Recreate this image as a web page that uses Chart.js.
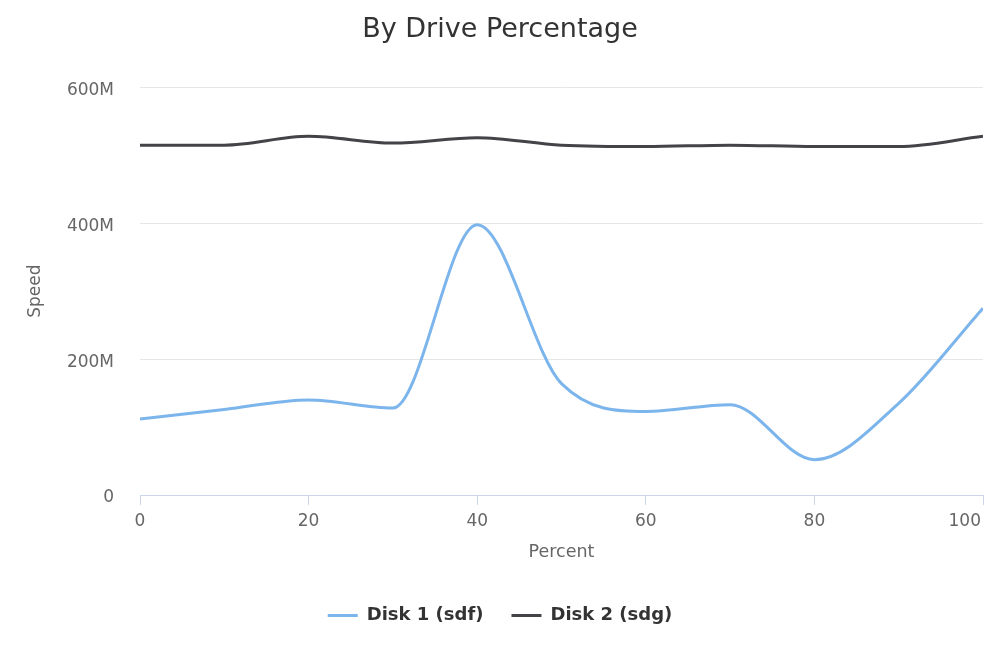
<!DOCTYPE html>
<html>
<head>
<meta charset="utf-8">
<script src="https://cdn.jsdelivr.net/npm/chart.js@4"></script>
<style>
  html, body { margin: 0; padding: 0; background: #ffffff; }
  #wrap { width: 1000px; height: 667px; position: relative; }
</style>
</head>
<body>
<div id="wrap"><canvas id="c"></canvas></div>
<script>
const percent = [0, 10, 20, 30, 40, 50, 60, 70, 80, 90, 100];
const disk1 = [112, 126, 140, 128, 398, 164, 123, 133, 52, 135, 275];
const disk2 = [515, 515, 528, 518, 526, 515, 513, 515, 513, 513, 528];
const yTickValues = [0, 200, 400, 600];
const xTickValues = [0, 20, 40, 60, 80, 100];
const seriesNames = ['Disk 1 (sdf)', 'Disk 2 (sdg)'];

const FONT = "'DejaVu Sans', 'Open Sans', sans-serif";

function toPoints(xs, ys) { return xs.map((x, i) => ({ x: x, y: ys[i] })); }

// Highcharts-like label placement: keep the last x label inside the canvas,
// and sit y labels slightly below their grid lines.
const labelTweaks = {
  id: 'labelTweaks',
  beforeDraw(chart) {
    const xs = chart.scales.x;
    const xi = xs.getLabelItems();
    if (xi.length) {
      const last = xi[xi.length - 1];
      last.options.textAlign = 'right';
      last.options.translation[0] = xs.right - 2;
    }
    const ys = chart.scales.y;
    ys.getLabelItems().forEach(it => { it.options.translation[1] += 3; });
  }
};

new Chart(document.getElementById('c'), {
  type: 'line',
  data: {
    datasets: [
      {
        label: seriesNames[0],
        data: toPoints(percent, disk1),
        borderColor: '#7cb5ec',
        backgroundColor: '#7cb5ec',
        borderWidth: 3,
        pointRadius: 0,
        cubicInterpolationMode: 'monotone',
        fill: false
      },
      {
        label: seriesNames[1],
        data: toPoints(percent, disk2),
        borderColor: '#434348',
        backgroundColor: '#434348',
        borderWidth: 3,
        pointRadius: 0,
        cubicInterpolationMode: 'monotone',
        fill: false
      }
    ]
  },
  plugins: [labelTweaks],
  options: {
    responsive: true,
    maintainAspectRatio: false,
    animation: false,
    layout: { padding: { left: 0, right: 0, top: 0, bottom: 32.5 } },
    plugins: {
      title: {
        display: true,
        text: 'By Drive Percentage',
        color: '#333333',
        font: { family: FONT, size: 27, weight: 'normal' },
        padding: { top: 14, bottom: 41 }
      },
      legend: {
        position: 'bottom',
        labels: {
          usePointStyle: true,
          pointStyle: 'line',
          pointStyleWidth: 30,
          color: '#333333',
          font: { family: FONT, size: 18, weight: 'bold' },
          padding: 28
        }
      },
      tooltip: { enabled: false }
    },
    scales: {
      x: {
        type: 'linear',
        min: 0,
        max: 100,
        afterBuildTicks: (s) => { s.ticks = xTickValues.map(v => ({ value: v })); },
        afterFit: (s) => { s.height = 83.5; s.paddingRight = 17; s.paddingLeft = 0; },
        ticks: { color: '#666666', font: { family: FONT, size: 17 }, padding: 6, maxRotation: 0 },
        grid: { drawOnChartArea: false, drawTicks: true, tickLength: 10, color: '#ccd6eb' },
        border: { display: true, color: '#ccd6eb', width: 1 },
        title: {
          display: true,
          text: 'Percent',
          color: '#666666',
          font: { family: FONT, size: 17.5 },
          padding: { top: 0, bottom: 15.3 }
        }
      },
      y: {
        type: 'linear',
        min: 0,
        max: 600,
        afterBuildTicks: (s) => { s.ticks = yTickValues.map(v => ({ value: v })); },
        afterFit: (s) => { s.width = 140; },
        ticks: {
          color: '#666666',
          font: { family: FONT, size: 17 },
          padding: 26,
          callback: (v) => (v === 0 ? '0' : v + 'M')
        },
        grid: { color: '#e6e6e6', drawTicks: false, lineWidth: 1 },
        border: { display: false },
        title: {
          display: true,
          text: 'Speed',
          color: '#666666',
          font: { family: FONT, size: 17 },
          padding: { top: 25.8, bottom: 0 }
        }
      }
    }
  }
});
</script>
</body>
</html>
